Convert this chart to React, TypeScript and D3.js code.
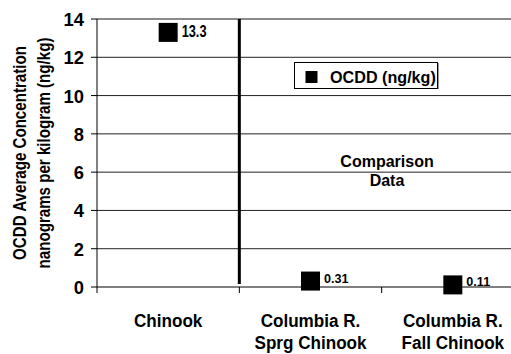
import React from "react";
import * as d3 from "d3";

const categories = ["Chinook", "Columbia R.|Sprg Chinook", "Columbia R.|Fall Chinook"];
const values = [13.3, 0.31, 0.11];
const valueLabels = ["13.3", "0.31", "0.11"];
const yTicks = [0, 2, 4, 6, 8, 10, 12, 14];
const legendLabel = "OCDD (ng/kg)";
const yTitle = ["OCDD Average Concentration", "nanograms per kilogram (ng/kg)"];
const noteLines = ["Comparison", "Data"];

const W = 511;
const H = 354;
const margin = { left: 97, right: -13, top: 19, bottom: 67 };
const FONT = "'Liberation Sans', Arial, sans-serif";

// Bold text with optional horizontal condensing, anchored at (x, y).
function Label({
  x,
  y,
  size,
  sx = 1,
  anchor = "start",
  rotate = 0,
  children,
}: {
  x: number;
  y: number;
  size: number;
  sx?: number;
  anchor?: "start" | "middle" | "end";
  rotate?: number;
  children: React.ReactNode;
}) {
  return (
    <text
      transform={`translate(${x},${y}) rotate(${rotate}) scale(${sx},1)`}
      textAnchor={anchor}
      fontSize={size}
      fontWeight="bold"
    >
      {children}
    </text>
  );
}

export default function App() {
  const x = d3
    .scaleBand<string>()
    .domain(categories)
    .range([margin.left, W - margin.right]);
  const y = d3.scaleLinear().domain([0, 14]).range([H - margin.bottom, margin.top]);
  const x0 = margin.left;
  const x1 = W - margin.right;
  const ms = 19;
  const divider = x(categories[1])!;
  const yMid = (y(0) + y(14)) / 2;

  return (
    <svg
      width={W}
      height={H}
      style={{ position: "absolute", left: 0, top: 0, display: "block" }}
      fontFamily={FONT}
    >
      <rect width={W} height={H} fill="#fff" />
      {/* horizontal gridlines */}
      {yTicks.map((t) => (
        <line
          key={t}
          x1={x0}
          x2={x1}
          y1={y(t)}
          y2={y(t)}
          stroke={t === 14 ? "#8a8a8a" : t === 0 ? "#000" : "#222"}
          strokeWidth={t === 14 ? 2 : 1}
        />
      ))}
      {/* y axis */}
      <line x1={x0} x2={x0} y1={y(14)} y2={y(0)} stroke="#000" strokeWidth={1} />
      {yTicks.map((t) => (
        <g key={"t" + t}>
          <line x1={x0 - 6} x2={x0} y1={y(t)} y2={y(t)} stroke="#000" />
          <Label x={x0 - 13} y={y(t) + 7} size={18} sx={1.02} anchor="end">
            {t}
          </Label>
        </g>
      ))}
      {/* x axis ticks and labels */}
      {categories.map((c) => (
        <line
          key={"xt" + c}
          x1={x(c)!}
          x2={x(c)!}
          y1={y(0)}
          y2={y(0) + 6}
          stroke="#000"
        />
      ))}
      {categories.map((c) => {
        const cx = x(c)! + x.bandwidth() / 2;
        return c.split("|").map((line, i) => (
          <Label key={c + i} x={cx} y={327 + i * 22} size={19} sx={0.9} anchor="middle">
            {line}
          </Label>
        ));
      })}
      {/* y axis title */}
      {yTitle.map((line, i) => (
        <Label key={"yt" + i} x={26 + i * 24} y={yMid} size={18} sx={0.84} anchor="middle" rotate={-90}>
          {line}
        </Label>
      ))}
      {/* divider between study and comparison data */}
      <line
        x1={divider}
        x2={divider}
        y1={y(14)}
        y2={y(0) - 3}
        stroke="#000"
        strokeWidth={3}
      />
      {/* markers */}
      {values.map((v, i) => {
        const cx = x(categories[i])! + x.bandwidth() / 2;
        const big = i === 0;
        return (
          <g key={"m" + i}>
            <rect x={cx - ms / 2} y={y(v) - ms / 2} width={ms} height={ms} fill="#000" />
            <Label
              x={cx + ms / 2 + 4}
              y={big ? y(v) + 4.5 : y(v) + 1.5}
              size={big ? 17 : 12}
              sx={big ? 0.75 : 1.05}
            >
              {valueLabels[i]}
            </Label>
          </g>
        );
      })}
      {/* legend */}
      <g>
        <rect x={294.5} y={62.5} width={143} height={26} fill="#fff" stroke="#000" />
        <line x1={438.5} x2={438.5} y1={63} y2={89} stroke="#999" strokeWidth={1} />
        <rect x={305.5} y={71} width={12} height={12} fill="#000" />
        <Label x={330} y={83} size={17} sx={0.95}>
          {legendLabel}
        </Label>
      </g>
      {/* annotation */}
      {noteLines.map((l, i) => (
        <Label key={"n" + i} x={387} y={166.5 + i * 19.5} size={16} anchor="middle">
          {l}
        </Label>
      ))}
    </svg>
  );
}
